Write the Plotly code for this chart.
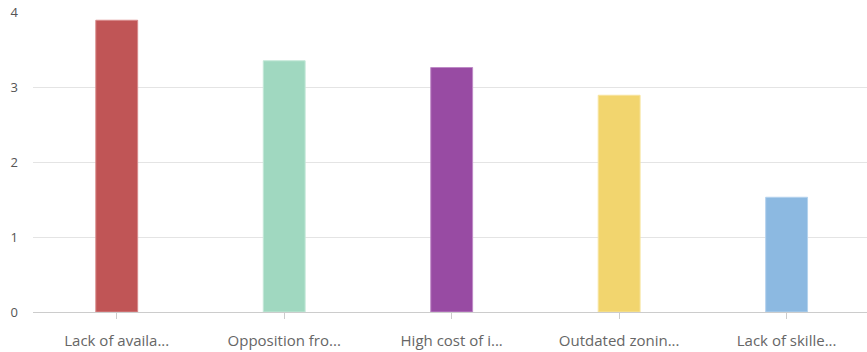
import plotly.graph_objects as go

categories = ["Lack of availa...", "Opposition fro...", "High cost of i...", "Outdated zonin...", "Lack of skille..."]
values = [3.89, 3.35, 3.26, 2.89, 1.53]
colors = ["#c05556", "#a0d8c0", "#984ba3", "#f2d56e", "#8cb9e1"]
line_colors = ["#d88a8b", "#c4e8d8", "#be8ac6", "#f7e49e", "#b4d2ed"]
y_ticks = [0, 1, 2, 3, 4]

fig = go.Figure(
    go.Bar(
        x=categories,
        y=values,
        width=0.25,
        marker=dict(color=colors, line=dict(color=line_colors, width=1)),
        hoverinfo="x+y",
    )
)

fig.update_layout(
    width=867,
    height=352,
    margin=dict(l=33, r=0, t=12, b=40),
    paper_bgcolor="white",
    plot_bgcolor="white",
    showlegend=False,
    font=dict(family="Open Sans, Roboto, sans-serif", size=12, color="#555555"),
    xaxis=dict(
        range=[-0.5, 4.48],
        showline=True,
        linecolor="#cccccc",
        linewidth=1,
        ticks="outside",
        ticklen=6,
        tickcolor="#cccccc",
        showgrid=False,
        ticklabelstandoff=9,
        tickfont=dict(size=15, color="#666666"),
    ),
    yaxis=dict(
        range=[0, 4],
        tickvals=y_ticks,
        showgrid=True,
        gridcolor="#e4e4e4",
        gridwidth=1,
        zeroline=False,
        showline=False,
        ticks="",
        ticklabelstandoff=14,
        tickfont=dict(size=13, color="#555555"),
    ),
)

fig.write_html("out.html")
